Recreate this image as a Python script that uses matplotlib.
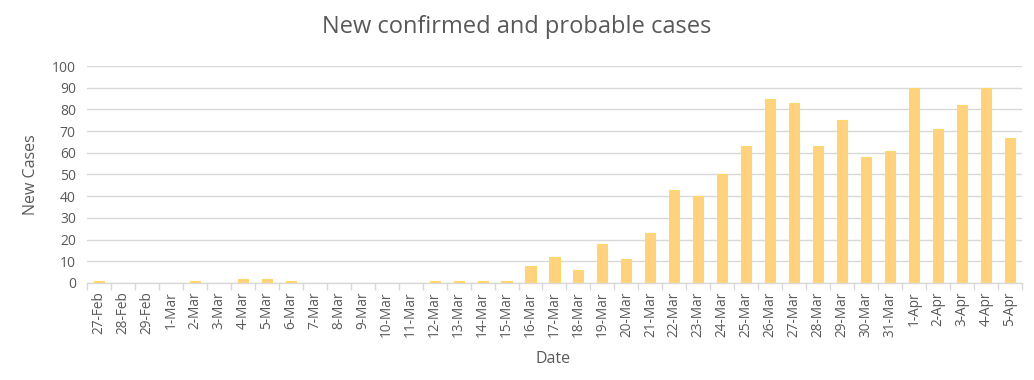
import matplotlib
matplotlib.use("Agg")
import matplotlib.pyplot as plt
import numpy as np

plt.rcParams['font.family'] = ['Open Sans', 'DejaVu Sans']

dates = ['27-Feb', '28-Feb', '29-Feb'] + ['%d-Mar' % d for d in range(1, 32)] + ['%d-Apr' % d for d in range(1, 6)]
cases = [1, 0, 0, 0, 1, 0, 2, 2, 1, 0,
         0, 0, 0, 0, 1, 1, 1, 1, 8, 12,
         6, 18, 11, 23, 43, 40, 50, 63, 85, 83,
         63, 75, 58, 61, 90, 71, 82, 90, 67]
yticks = list(range(0, 101, 10))

TXT = '#595959'
GRID = '#D9D9D9'

fig = plt.figure(figsize=(10.34, 3.8), dpi=100)
ax = fig.add_axes([0.0841, 0.2553, 0.9043, 0.571])

x = np.arange(len(dates))
ax.bar(x, cases, width=0.42, color='#FED27F', edgecolor='#FFD966', linewidth=0.8, zorder=3)

ax.set_xlim(-0.5, len(dates) - 0.5)
ax.set_ylim(0, 100)
ax.set_yticks(yticks)
ax.yaxis.grid(True, color=GRID, linewidth=1, zorder=0)
ax.tick_params(axis='y', length=0, labelsize=10, labelcolor=TXT, pad=8)

ax.set_xticks(x)
ax.set_xticklabels(dates, rotation=90, fontsize=9.8, color=TXT)
ax.set_xticks(np.arange(-0.5, len(dates), 1), minor=True)
ax.tick_params(axis='x', which='major', length=0, pad=6)
ax.tick_params(axis='x', which='minor', length=5, color=GRID, width=1)

for s in ['top', 'right', 'left']:
    ax.spines[s].set_visible(False)
ax.spines['bottom'].set_color(GRID)
ax.spines['bottom'].set_linewidth(1)

fig.text(0.5, 0.928, 'New confirmed and probable cases', ha='center', va='center', fontsize=17, color=TXT)
fig.text(0.03, 0.54, 'New Cases', rotation=90, ha='center', va='center', fontsize=11.5, color=TXT)
fig.text(0.535, 0.055, 'Date', ha='center', va='center', fontsize=11.5, color=TXT)

fig.savefig('out.png', dpi=100)
